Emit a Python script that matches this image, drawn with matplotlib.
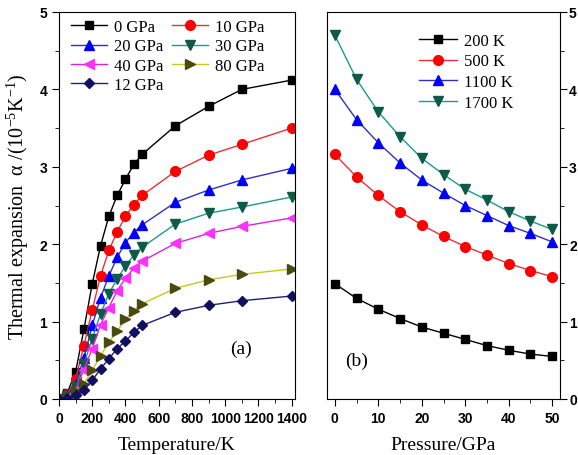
import matplotlib
matplotlib.use("Agg")
import matplotlib.pyplot as plt
from matplotlib.ticker import MultipleLocator

plt.rcParams['mathtext.fontset'] = 'custom'
plt.rcParams['mathtext.rm'] = 'Liberation Serif'
plt.rcParams['mathtext.it'] = 'Liberation Serif:italic'

# panel (a): thermal expansion vs temperature
temps = [0, 50, 100, 150, 200, 250, 300, 350, 400, 450, 500, 700, 900, 1100, 1400]
a_0 = [0.0, 0.08, 0.35, 0.90, 1.49, 1.98, 2.36, 2.63, 2.84, 3.03, 3.16, 3.53, 3.78, 4.00, 4.12]
a_10 = [0.0, 0.06, 0.26, 0.69, 1.15, 1.59, 1.92, 2.16, 2.36, 2.51, 2.63, 2.94, 3.15, 3.29, 3.50]
a_20 = [0.0, 0.05, 0.20, 0.53, 0.95, 1.31, 1.59, 1.83, 2.02, 2.15, 2.25, 2.54, 2.70, 2.83, 2.98]
a_30 = [0.0, 0.04, 0.15, 0.45, 0.78, 1.10, 1.36, 1.55, 1.72, 1.86, 1.96, 2.26, 2.40, 2.48, 2.61]
a_40 = [0.0, 0.03, 0.12, 0.38, 0.65, 0.96, 1.18, 1.40, 1.56, 1.69, 1.78, 2.01, 2.14, 2.23, 2.34]
a_80 = [0.0, 0.02, 0.10, 0.20, 0.37, 0.56, 0.73, 0.88, 1.03, 1.14, 1.23, 1.43, 1.54, 1.61, 1.68]
a_12 = [0.0, 0.01, 0.05, 0.11, 0.24, 0.39, 0.52, 0.65, 0.75, 0.86, 0.95, 1.12, 1.21, 1.27, 1.33]

# panel (b): thermal expansion vs pressure
press = [0, 5, 10, 15, 20, 25, 30, 35, 40, 45, 50]
b_200 = [1.49, 1.30, 1.16, 1.04, 0.93, 0.85, 0.77, 0.69, 0.63, 0.58, 0.55]
b_500 = [3.16, 2.87, 2.63, 2.42, 2.25, 2.10, 1.97, 1.86, 1.75, 1.66, 1.58]
b_1100 = [4.00, 3.61, 3.31, 3.05, 2.83, 2.66, 2.50, 2.37, 2.24, 2.14, 2.03]
b_1700 = [4.70, 4.13, 3.71, 3.39, 3.11, 2.90, 2.71, 2.57, 2.42, 2.30, 2.19]

serif = 'Liberation Serif'
tickfont = {'family': 'Liberation Sans', 'weight': 'bold', 'size': 10}

fig = plt.figure(figsize=(5.78, 4.56), dpi=100)
ax1 = fig.add_axes([59/578, 56/456, 236/578, 387/456])
ax2 = fig.add_axes([327/578, 56/456, 233/578, 387/456])

lw = 1.0
ms = 6
h = {}
h['0'] = ax1.plot(temps, a_0, '-s', color='black', lw=lw, ms=ms, label='0 GPa')[0]
h['10'] = ax1.plot(temps, a_10, '-o', color='#e8303a', mfc='red', mec='red', lw=lw, ms=ms+1, label='10 GPa')[0]
h['20'] = ax1.plot(temps, a_20, '-^', color='#3030c8', mfc='blue', mec='blue', lw=lw, ms=ms+1, label='20 GPa')[0]
h['30'] = ax1.plot(temps, a_30, '-v', color='#1a9a90', mfc='#0e5a48', mec='#0e5a48', lw=lw, ms=ms+1, label='30 GPa')[0]
h['40'] = ax1.plot(temps, a_40, '-<', color='#e020e0', mfc='#ff30ff', mec='#ff30ff', lw=lw, ms=ms+1, label='40 GPa')[0]
h['80'] = ax1.plot(temps, a_80, '->', color='#c8c820', mfc='#4a4a10', mec='#4a4a10', lw=lw, ms=ms+1, label='80 GPa')[0]
h['12'] = ax1.plot(temps, a_12, '-D', color='#202070', mfc='#101060', mec='#101060', lw=lw, ms=ms-0.5, label='12 GPa')[0]

order = ['0', '20', '40', '12', '10', '30', '80']
ax1.legend([h[k] for k in order], [h[k].get_label() for k in order], ncol=2,
           loc='upper left', bbox_to_anchor=(0.0, 1.012), frameon=False,
           prop={'family': serif, 'size': 12},
           handlelength=2.2, columnspacing=0.5, labelspacing=0.2, borderaxespad=0.3,
           handletextpad=0.4)

ax1.set_xlim(0, 1420)
ax1.set_ylim(0, 5)
ax1.xaxis.set_major_locator(MultipleLocator(200))
ax1.xaxis.set_minor_locator(MultipleLocator(100))
ax1.yaxis.set_major_locator(MultipleLocator(1))
ax1.yaxis.set_minor_locator(MultipleLocator(0.5))
ax1.tick_params(which='both', direction='out', top=False, right=False)
ax1.tick_params(which='major', length=5)
ax1.tick_params(which='minor', length=3)
for lab in ax1.get_xticklabels() + ax1.get_yticklabels():
    lab.set_fontproperties(tickfont)
ax1.set_xlabel('Temperature/K', family=serif, fontsize=14, labelpad=8)
ax1.set_ylabel('Thermal expansion  \u03b1 /(10$^{-5}$K$^{-1}$)', family=serif, fontsize=14.5, labelpad=6)
ax1.text(0.77, 0.13, '(a)', transform=ax1.transAxes, ha='center', va='center', family=serif, fontsize=14)

ax2.plot(press, b_200, '-s', color='black', lw=lw, ms=ms, label='200 K')
ax2.plot(press, b_500, '-o', color='#e8303a', mfc='red', mec='red', lw=lw, ms=ms+1, label='500 K')
ax2.plot(press, b_1100, '-^', color='#3030c8', mfc='blue', mec='blue', lw=lw, ms=ms+1, label='1100 K')
ax2.plot(press, b_1700, '-v', color='#1a9a90', mfc='#0e5a48', mec='#0e5a48', lw=lw, ms=ms+1, label='1700 K')
ax2.legend(loc='upper left', bbox_to_anchor=(0.33, 0.985), frameon=False,
           prop={'family': serif, 'size': 12}, handlelength=2.3,
           labelspacing=0.28, handletextpad=0.4)

ax2.set_xlim(-1.8, 51.8)
ax2.set_ylim(0, 5)
ax2.xaxis.set_major_locator(MultipleLocator(10))
ax2.xaxis.set_minor_locator(MultipleLocator(5))
ax2.yaxis.set_major_locator(MultipleLocator(1))
ax2.yaxis.set_minor_locator(MultipleLocator(0.5))
ax2.yaxis.tick_right()
ax2.tick_params(which='both', direction='out', top=False, left=False)
ax2.tick_params(which='major', length=5)
ax2.tick_params(which='minor', length=3)
ax2.tick_params(axis='y', pad=1.5)
for lab in ax2.get_xticklabels() + ax2.get_yticklabels():
    lab.set_fontproperties(tickfont)
ax2.set_xlabel('Pressure/GPa', family=serif, fontsize=14, labelpad=8)
ax2.text(0.127, 0.10, '(b)', transform=ax2.transAxes, ha='center', va='center', family=serif, fontsize=14)

fig.savefig('out.png', dpi=100)
